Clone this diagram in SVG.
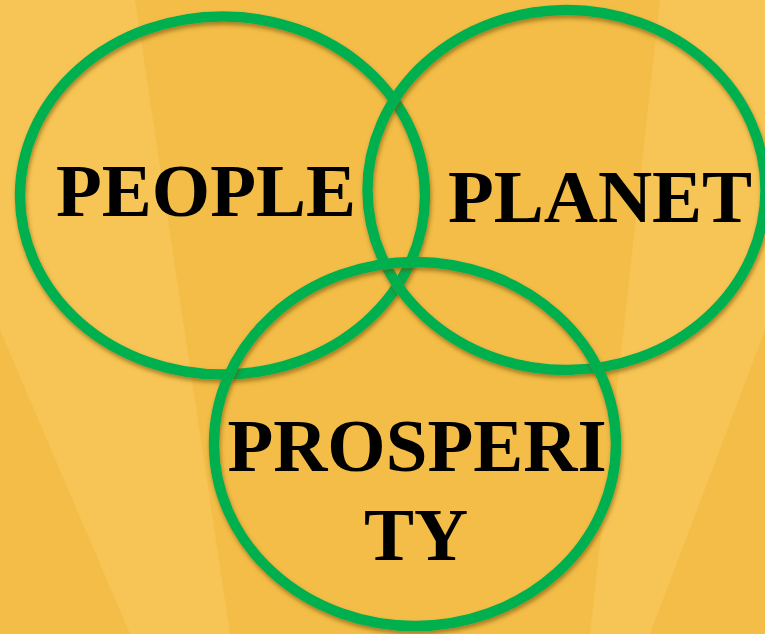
<svg xmlns="http://www.w3.org/2000/svg" width="765" height="634" viewBox="0 0 765 634">
<defs>
<filter id="sh" x="-10%" y="-10%" width="120%" height="120%">
<feDropShadow dx="1" dy="3" stdDeviation="2" flood-color="#6b4a00" flood-opacity="0.55"/>
</filter>
</defs>
<style>
.ring{fill:none;stroke:#00B050;stroke-width:10.5;filter:url(#sh)}
.lbl{font-family:"Liberation Serif","Times New Roman",serif;font-weight:bold;font-size:75px;fill:#000;text-anchor:middle}
.ray{fill:#F7C555}
</style>
<rect width="765" height="634" fill="#F3BD47"/>
<g id="background-rays">
<polygon class="ray" points="0,0 135,0 230,634 130,634 0,330"/>
<polygon class="ray" points="660,0 765,0 765,330 650,634 590,634"/>
</g>
<g id="node-people">
<ellipse class="ring" cx="222.5" cy="195.5" rx="202.5" ry="179"/>
<text class="lbl" x="206" y="216">PEOPLE</text>
</g>
<g id="node-planet">
<ellipse class="ring" cx="566.5" cy="190" rx="199" ry="180"/>
<text class="lbl" x="600" y="222">PLANET</text>
</g>
<g id="node-prosperity">
<ellipse class="ring" cx="415" cy="444" rx="201" ry="182"/>
<text class="lbl" x="417" y="471">PROSPERI</text>
<text class="lbl" x="416" y="560">TY</text>
</g>
<g id="connectors"/>
</svg>
